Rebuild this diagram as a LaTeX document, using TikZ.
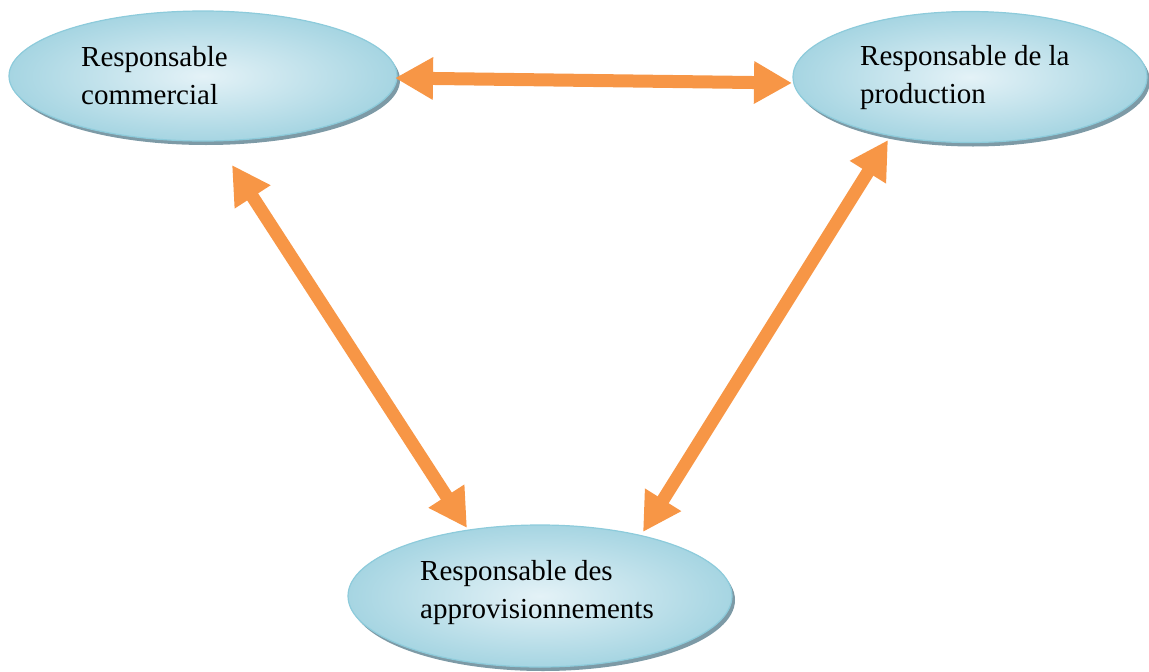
\documentclass[tikz,border=0pt]{standalone}
\usepackage{fontspec}
\setmainfont{Liberation Serif}
\usetikzlibrary{shapes.geometric,arrows.meta}
\definecolor{arrowor}{HTML}{F79646}
\definecolor{bubin}{HTML}{E4F2F7}
\definecolor{bubout}{HTML}{A6D5E2}
\definecolor{bubline}{HTML}{8DCBDB}
\definecolor{bubshadow}{HTML}{7D9AA6}
\tikzset{
  bubble/.style={ellipse, draw=bubline, line width=1.2pt,
    shade, shading=radial, inner color=bubin, outer color=bubout},
  bubshade/.style={ellipse, fill=bubshadow},
  label/.style={anchor=base west, inner sep=0pt, font=\fontsize{29}{38}\selectfont},
  link/.style={draw=arrowor, line width=13pt,
    {Triangle[length=38pt,width=40pt]}-{Triangle[length=38pt,width=40pt]}}
}
\begin{document}
\begin{tikzpicture}[x=1pt,y=-1pt]
  \useasboundingbox (0,0) rectangle (1149,672);
  % shadows under the three bubbles
  \node[bubshade, minimum width=388pt, minimum height=130pt] at (206,80) {};
  \node[bubshade, minimum width=354pt, minimum height=131pt] at (973,81) {};
  \node[bubshade, minimum width=384pt, minimum height=142pt] at (543,600) {};
  % bubbles
  \node[bubble, minimum width=388pt, minimum height=130pt] (com) at (203,76) {};
  \node[bubble, minimum width=354pt, minimum height=131pt] (prod) at (970,77) {};
  \node[bubble, minimum width=384pt, minimum height=142pt] (appro) at (540,596) {};
  % labels
  \node[label] (tcom1) at (81,66) {Responsable};
  \node[label] (tcom2) at (81,104) {commercial};
  \node[label] (tprod1) at (860,65) {Responsable de la};
  \node[label] (tprod2) at (860,103) {production};
  \node[label] (tapp1) at (420,580) {Responsable des};
  \node[label] (tapp2) at (420,618) {approvisionnements};
  % arrow tips
  \coordinate (comE) at (395,78);
  \coordinate (prodW) at (792,83);
  \coordinate (comS) at (232,165);
  \coordinate (appNW) at (467,528);
  \coordinate (prodS) at (888,140);
  \coordinate (appNE) at (643,532);
  % double-headed links
  \draw[link] (comE) -- (prodW);
  \draw[link] (comS) -- (appNW);
  \draw[link] (prodS) -- (appNE);
\end{tikzpicture}
\end{document}
